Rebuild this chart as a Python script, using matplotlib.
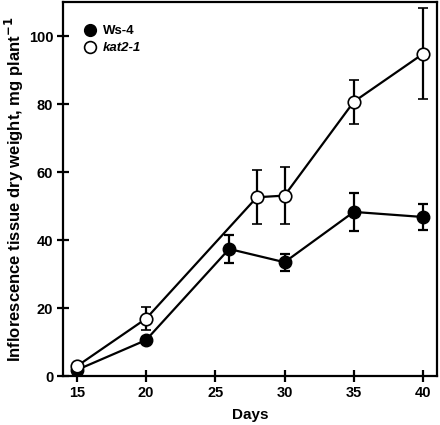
import matplotlib
matplotlib.use("Agg")
import matplotlib.pyplot as plt
from matplotlib.lines import Line2D

plt.rcParams["font.family"] = ["Liberation Sans", "DejaVu Sans"]
plt.rcParams["font.weight"] = "bold"

# data
ws4_days = [15, 20, 26, 30, 35, 40]
ws4_mean = [1.8, 10.6, 37.4, 33.5, 48.3, 46.8]
ws4_err = [0.5, 0.8, 4.0, 2.5, 5.5, 3.8]

kat_days = [15, 20, 28, 30, 35, 40]
kat_mean = [2.9, 16.9, 52.6, 53.1, 80.7, 94.8]
kat_err = [0.5, 3.4, 8.0, 8.4, 6.5, 13.4]

xticks = [15, 20, 25, 30, 35, 40]
yticks = [0, 20, 40, 60, 80, 100]

fig = plt.figure(figsize=(4.4, 4.25), dpi=100)
ax = fig.add_axes([0.143, 0.115, 0.85, 0.88])

ax.errorbar(ws4_days, ws4_mean, yerr=ws4_err, color="black", lw=1.6,
            marker="o", ms=9, mfc="black", mec="black", capsize=3.5,
            elinewidth=1.6, capthick=1.6, zorder=3)
ax.errorbar(kat_days, kat_mean, yerr=kat_err, color="black", lw=1.6,
            marker="o", ms=9, mfc="white", mec="black", mew=1.2, capsize=3.5,
            elinewidth=1.6, capthick=1.6, zorder=4)

ax.set_xlim(14, 41)
ax.set_ylim(0, 110)
ax.set_xticks(xticks)
ax.set_yticks(yticks)
ax.tick_params(direction="inout", length=8, width=1.6, labelsize=10.5, pad=3)
for lbl in ax.get_xticklabels() + ax.get_yticklabels():
    lbl.set_fontweight("bold")
for s in ax.spines.values():
    s.set_linewidth(1.6)

ax.set_xlabel("Days", fontsize=11, fontweight="bold", labelpad=6)
ax.set_ylabel("Inflorescence tissue dry weight, mg plant$^{\\mathbf{-1}}$",
              fontsize=12, fontweight="bold", labelpad=2)

handles = [
    Line2D([], [], ls="", marker="o", ms=8.5, mfc="black", mec="black"),
    Line2D([], [], ls="", marker="o", ms=8.5, mfc="white", mec="black", mew=1.2),
]
leg = ax.legend(handles, ["Ws-4", "kat2-1"], loc="upper left", frameon=False,
                fontsize=9.5, handlelength=0.6, handletextpad=0.7,
                labelspacing=0.35, bbox_to_anchor=(0.03, 0.97))
leg.get_texts()[1].set_style("italic")
for t in leg.get_texts():
    t.set_fontweight("bold")

fig.savefig("out.png", dpi=100)
